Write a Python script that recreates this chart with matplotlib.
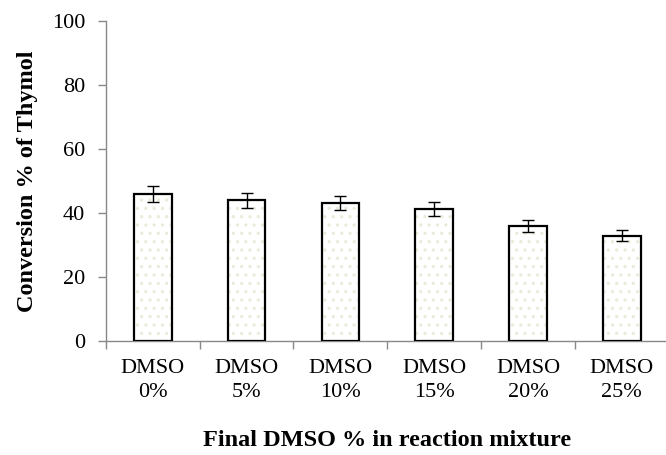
import matplotlib
matplotlib.use("Agg")
import matplotlib.pyplot as plt
import numpy as np

categories = ["DMSO\n0%", "DMSO\n5%", "DMSO\n10%", "DMSO\n15%", "DMSO\n20%", "DMSO\n25%"]
conversion = [45.9, 44.0, 43.0, 41.3, 35.9, 32.9]
errors = [2.4, 2.3, 2.2, 2.1, 1.8, 1.7]
yticks = [0, 20, 40, 60, 80, 100]

plt.rcParams["font.family"] = ["Liberation Serif", "DejaVu Serif"]
plt.rcParams["hatch.linewidth"] = 1.2

fig = plt.figure(figsize=(6.66, 4.55), dpi=100)
ax = fig.add_axes([0.159, 0.2505, 0.845, 0.7035])

x = np.arange(len(categories))
width = 0.4

# faint dotted fill inside the bars
ax.bar(x, conversion, width, color="white", edgecolor="#ebebdc",
       hatch="..", linewidth=0, zorder=2)
# bar outlines
ax.bar(x, conversion, width, color="none", edgecolor="black",
       linewidth=1.6, zorder=3)
ax.errorbar(x, conversion, yerr=errors, fmt="none", ecolor="black",
            elinewidth=1.0, capsize=4, capthick=1.0, zorder=4)

ax.set_xlim(-0.5, len(categories) - 0.5)
ax.set_ylim(0, 100)
ax.set_yticks(yticks)
ax.tick_params(axis="y", labelsize=16, length=6, width=1, color="#888888", pad=9)

ax.set_xticks(x)
ax.set_xticklabels(categories, fontsize=16, linespacing=1.35)
ax.tick_params(axis="x", length=0, pad=13)
# category boundary ticks
ax.set_xticks(np.arange(len(categories) + 1) - 0.5, minor=True)
ax.tick_params(axis="x", which="minor", length=6, width=1, color="#888888")

for side in ["top", "right"]:
    ax.spines[side].set_visible(False)
for side in ["left", "bottom"]:
    ax.spines[side].set_color("#888888")
    ax.spines[side].set_linewidth(1.0)

ax.set_ylabel("Conversion % of Thymol", fontsize=17.5, fontweight="bold", labelpad=10)
ax.set_xlabel("Final DMSO % in reaction mixture", fontsize=17.5, fontweight="bold", labelpad=20)

fig.savefig("out.png", dpi=100)
